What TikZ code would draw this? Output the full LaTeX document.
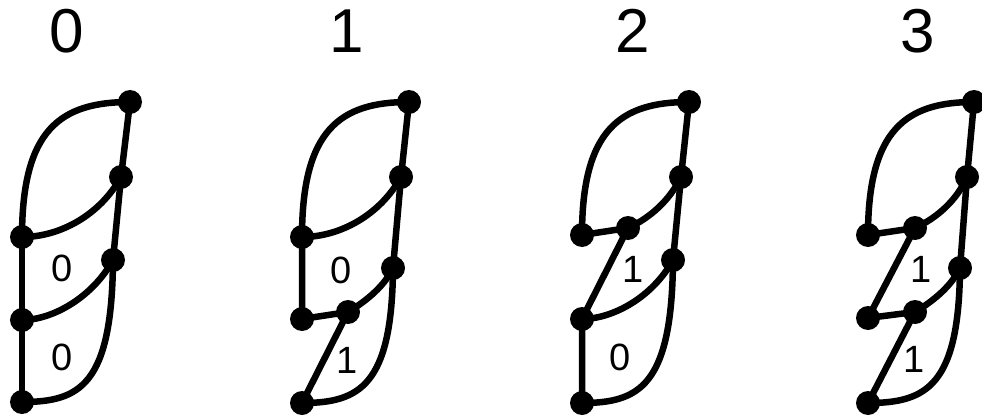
\documentclass[tikz,border=0pt]{standalone}
\usepackage{fontspec}
\setmainfont{Liberation Sans}
\newfontfamily\digfont{Liberation Sans}
\begin{document}
\begin{tikzpicture}[x=1pt,y=-1pt,
  dot/.style={circle,fill=black,minimum size=24pt,inner sep=0pt},
  edge/.style={line width=6.5pt,line join=round},
  title/.style={font=\digfont\fontsize{62}{70}\selectfont,inner sep=0pt},
  lab/.style={font=\digfont\fontsize{38}{44}\selectfont,inner sep=0pt}]
\useasboundingbox (0,0) rectangle (982,417);
% titles
\node[title] (t0) at (67,31) {0};
\node[title] (t1) at (347,31) {1};
\node[title] (t2) at (633,31) {2};
\node[title] (t3) at (918,31) {3};
% ---------- panel 0
\node[dot] (a-top) at (130,102) {};
\node[dot] (a-r1) at (121,177) {};
\node[dot] (a-lu) at (22,237) {};
\node[dot] (a-rm) at (113,260) {};
\node[dot] (a-lm) at (22,320) {};
\node[dot] (a-b) at (22,402) {};
\draw[edge] (a-lu.center) .. controls (22,130) and (60,102) .. (a-top.center);
\draw[edge] (a-top.center) -- (a-r1.center) -- (a-rm.center);
\draw[edge] (a-r1.center) .. controls (100,215) and (60,237) .. (a-lu.center);
\draw[edge] (a-rm.center) .. controls (92,298) and (52,320) .. (a-lm.center);
\draw[edge] (a-rm.center) .. controls (112,385) and (80,402) .. (a-b.center);
\draw[edge] (a-lu.center) -- (a-lm.center) -- (a-b.center);
\node[lab] (a-l1) at (62,268) {0};
\node[lab] (a-l2) at (62,357) {0};
% ---------- panel 1
\node[dot] (b-top) at (409,102) {};
\node[dot] (b-r1) at (401,177) {};
\node[dot] (b-lu) at (302,237) {};
\node[dot] (b-rm) at (393,268) {};
\node[dot] (b-lm) at (302,319) {};
\node[dot] (b-il) at (348,312) {};
\node[dot] (b-b) at (302,403) {};
\draw[edge] (b-lu.center) .. controls (302,130) and (340,102) .. (b-top.center);
\draw[edge] (b-top.center) -- (b-r1.center) -- (b-rm.center);
\draw[edge] (b-r1.center) .. controls (380,215) and (340,237) .. (b-lu.center);
\draw[edge] (b-lu.center) -- (b-lm.center) -- (b-il.center) -- (b-b.center);
\draw[edge] (b-il.center) .. controls (368,300) and (385,285) .. (b-rm.center);
\draw[edge] (b-rm.center) .. controls (392,385) and (360,403) .. (b-b.center);
\node[lab] (b-l1) at (341,270) {0};
\node[lab] (b-l2) at (347,360) {1};
% ---------- panel 2
\node[dot] (c-top) at (689,102) {};
\node[dot] (c-r1) at (681,177) {};
\node[dot] (c-lu) at (582,235) {};
\node[dot] (c-iu) at (628,228) {};
\node[dot] (c-rm) at (673,260) {};
\node[dot] (c-lm) at (582,319) {};
\node[dot] (c-b) at (582,403) {};
\draw[edge] (c-lu.center) .. controls (582,130) and (620,102) .. (c-top.center);
\draw[edge] (c-top.center) -- (c-r1.center) -- (c-rm.center);
\draw[edge] (c-lu.center) -- (c-iu.center) -- (c-lm.center) -- (c-b.center);
\draw[edge] (c-iu.center) .. controls (650,218) and (670,200) .. (c-r1.center);
\draw[edge] (c-rm.center) .. controls (652,298) and (612,319) .. (c-lm.center);
\draw[edge] (c-rm.center) .. controls (672,385) and (640,403) .. (c-b.center);
\node[lab] (c-l1) at (633,269) {1};
\node[lab] (c-l2) at (620,357) {0};
% ---------- panel 3
\node[dot] (d-top) at (974,102) {};
\node[dot] (d-r1) at (967,177) {};
\node[dot] (d-lu) at (868,235) {};
\node[dot] (d-iu) at (915,228) {};
\node[dot] (d-rm) at (960,268) {};
\node[dot] (d-lm) at (868,318) {};
\node[dot] (d-il) at (915,312) {};
\node[dot] (d-b) at (868,403) {};
\draw[edge] (d-lu.center) .. controls (868,130) and (906,102) .. (d-top.center);
\draw[edge] (d-top.center) -- (d-r1.center) -- (d-rm.center);
\draw[edge] (d-lu.center) -- (d-iu.center) -- (d-lm.center) -- (d-il.center) -- (d-b.center);
\draw[edge] (d-iu.center) .. controls (937,218) and (957,200) .. (d-r1.center);
\draw[edge] (d-il.center) .. controls (935,300) and (952,285) .. (d-rm.center);
\draw[edge] (d-rm.center) .. controls (959,385) and (927,403) .. (d-b.center);
\node[lab] (d-l1) at (921,269) {1};
\node[lab] (d-l2) at (914,359) {1};
\end{tikzpicture}
\end{document}
